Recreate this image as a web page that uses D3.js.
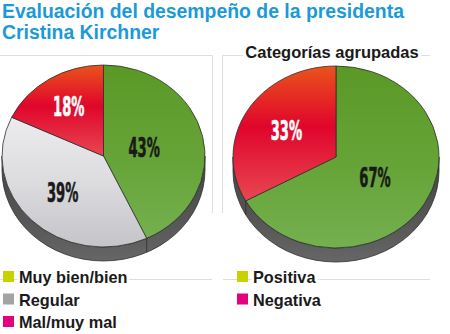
<!DOCTYPE html>
<html>
<head>
<meta charset="utf-8">
<script src="https://cdn.jsdelivr.net/npm/d3@7"></script>
<style>
  html, body { margin: 0; padding: 0; background: #fff; }
  svg { display: block; font-family: "Liberation Sans", Arial, sans-serif; }
</style>
</head>
<body>
<div id="chart"></div>
<script>
// --- data ---
const detailCategories = ["Muy bien/bien", "Regular", "Mal/muy mal"];
const detailValues = [43, 39, 18];
const groupCategories = ["Positiva", "Negativa"];
const groupValues = [67, 33];

const titleLines = ["Evaluación del desempeño de la presidenta", "Cristina Kirchner"];
const groupTitle = "Categorías agrupadas";

// fills per slice (gradient ids) and legend swatches
const detailFills = ["url(#gGreen)", "url(#gGrey)", "url(#gRed)"];
const detailLabelColors = ["#1a1a1a", "#1a1a1a", "#ffffff"];
const detailSwatches = ["#c8d200", "#a3a3a3", "#e5007d"];
const groupFills = ["url(#gGreen)", "url(#gRed)"];
const groupLabelColors = ["#1a1a1a", "#ffffff"];
const groupSwatches = ["#c8d200", "#e5007d"];

const W = 450, H = 334;
const svg = d3.select("#chart").append("svg")
  .attr("width", W).attr("height", H);

// gradients
const defs = svg.append("defs");
function grad(id, stops) {
  const g = defs.append("linearGradient").attr("id", id)
    .attr("x1", 0).attr("y1", 0).attr("x2", 0).attr("y2", 1);
  stops.forEach(s => g.append("stop").attr("offset", s[0]).attr("stop-color", s[1]));
}
grad("gGreen", [[0, "#5a9926"], [0.55, "#66a438"], [1, "#74b04f"]]);
grad("gGrey", [[0, "#ececee"], [0.5, "#dcdcdf"], [1, "#c4c4c9"]]);
grad("gRed", [[0, "#ea531c"], [0.45, "#e0052b"], [1, "#e84752"]]);
grad("gSide", [[0, "#444444"], [0.6, "#565656"], [1, "#666666"]]);

// ----- title -----
svg.append("g").selectAll("text")
  .data(titleLines).enter().append("text")
  .attr("x", 2)
  .attr("y", (d, i) => 18 + i * 20.5)
  .attr("font-size", 19.4)
  .attr("font-weight", 700)
  .attr("fill", "#1b9ad7")
  .text(d => d);

// ----- panel frame lines -----
const frame = svg.append("g").attr("stroke", "#dedede").attr("stroke-width", 1).attr("fill", "none");
frame.append("path").attr("d", "M0,55.5H212.5V213");
frame.append("path").attr("d", "M222.5,213V55.5H430");
frame.append("path").attr("d", "M0,279.5H212");
frame.append("path").attr("d", "M223,279.5H430");

// title of right panel (white backing breaks the line)
svg.append("text")
  .attr("x", 332).attr("y", 58)
  .attr("text-anchor", "middle")
  .attr("font-size", 16.5)
  .attr("font-weight", 700)
  .attr("fill", "#1a1a1a")
  .attr("stroke", "#fff").attr("stroke-width", 6)
  .attr("paint-order", "stroke")
  .text(groupTitle);

// ----- pies -----
function drawPie(values, fills, labelColors, labelR, cx, cy, rx, ry, depth) {
  const g = svg.append("g");
  const pie = d3.pie().sort(null).value(d => d);
  const arcs = pie(values);

  // side (extrusion)
  g.append("path")
    .attr("d", `M${cx - rx},${cy} A${rx},${ry} 0 0 0 ${cx + rx},${cy} L${cx + rx},${cy + depth} A${rx},${ry} 0 0 1 ${cx - rx},${cy + depth} Z`)
    .attr("fill", "url(#gSide)")
    .attr("stroke", "#2e2e2e").attr("stroke-width", 0.8);

  // seam lines on the side where slice edges reach the lower half
  arcs.forEach(a => {
    const t = a.startAngle;
    const x = cx + rx * Math.sin(t), y = cy - ry * Math.cos(t);
    if (Math.cos(t) < 0 && t > 0) {
      g.append("line").attr("x1", x).attr("y1", y).attr("x2", x).attr("y2", y + depth)
        .attr("stroke", "#2e2e2e").attr("stroke-width", 0.8);
    }
  });

  const arc = d3.arc().innerRadius(0).outerRadius(rx);
  const face = g.append("g")
    .attr("transform", `translate(${cx},${cy}) scale(1,${ry / rx})`);

  face.selectAll("path").data(arcs).enter().append("path")
    .attr("d", arc)
    .attr("fill", (d, i) => fills[i])
    .attr("stroke", "#2e2e2e")
    .attr("stroke-width", 0.8)
    .attr("vector-effect", "non-scaling-stroke");

  // labels (tall condensed numerals)
  arcs.forEach((a, i) => {
    const m = (a.startAngle + a.endAngle) / 2;
    const x = cx + rx * labelR[i] * Math.sin(m);
    const y = cy - ry * labelR[i] * Math.cos(m);
    g.append("text")
      .attr("transform", `translate(${x},${y}) scale(0.56,1)`)
      .attr("text-anchor", "middle")
      .attr("dominant-baseline", "central")
      .attr("font-family", "'DejaVu Sans Condensed', 'DejaVu Sans', sans-serif")
      .attr("font-weight", 700)
      .attr("font-size", 26)
      .attr("fill", labelColors[i])
      .attr("stroke", labelColors[i])
      .attr("stroke-width", 0.6)
      .text(a.data + "%");
  });
}

drawPie(detailValues, detailFills, detailLabelColors, [0.41, 0.57, 0.64], 103.5, 156, 101.5, 91, 14);
drawPie(groupValues, groupFills, groupLabelColors, [0.44, 0.56], 336, 157, 103, 91, 14);

// ----- legends -----
function drawLegend(labels, colors, x0, y0) {
  const row = svg.append("g").selectAll("g")
    .data(labels).enter().append("g")
    .attr("transform", (d, i) => `translate(${x0},${y0 + i * 22.5})`);
  row.append("rect")
    .attr("x", 0).attr("y", -6).attr("width", 11).attr("height", 11)
    .attr("fill", (d, i) => colors[i]);
  row.append("text")
    .attr("x", 16).attr("y", 0)
    .attr("dominant-baseline", "central")
    .attr("font-size", 16.3)
    .attr("font-weight", 700)
    .attr("fill", "#1a1a1a")
    .attr("stroke", "#fff").attr("stroke-width", 5)
    .attr("paint-order", "stroke")
    .text(d => d);
}
drawLegend(detailCategories, detailSwatches, 3, 277);
drawLegend(groupCategories, groupSwatches, 237, 277);
</script>
</body>
</html>
